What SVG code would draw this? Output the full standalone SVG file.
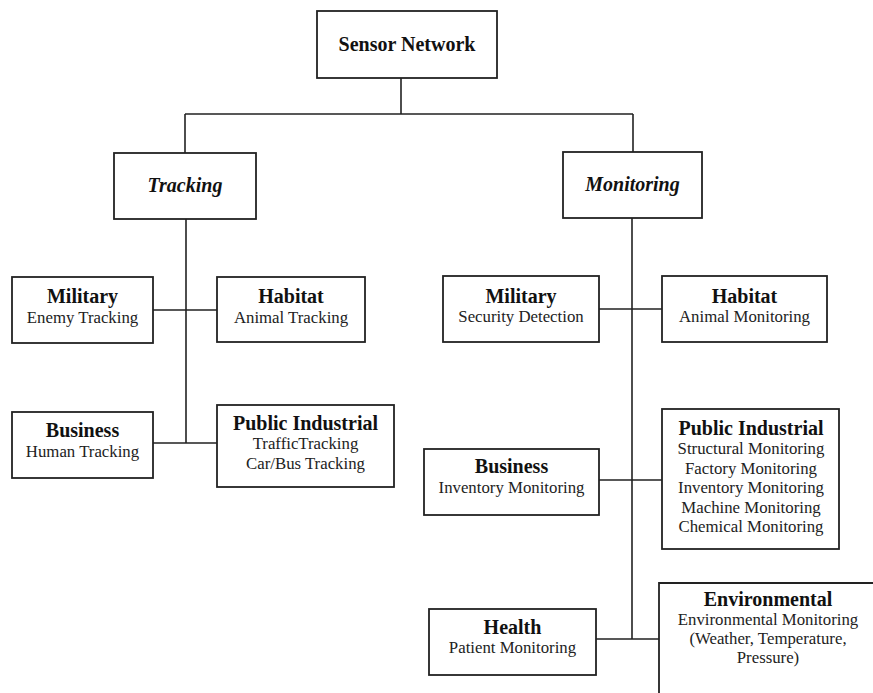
<svg xmlns="http://www.w3.org/2000/svg" width="873" height="693" viewBox="0 0 873 693">
<style>
.box{fill:#fff;stroke:#222;stroke-width:1.8}
.ln{fill:none;stroke:#222;stroke-width:1.6}
text{font-family:"Liberation Serif","Times New Roman",serif;fill:#111;text-anchor:middle}
.b{font-weight:bold;font-size:20px}
.bi{font-weight:bold;font-style:italic;font-size:20px}
.s{font-size:16.8px;fill:#222}
</style>
<rect width="873" height="693" fill="#fff"/>
<g id="connectors">
<path class="ln" d="M401 78V114M185 114H633M185 114V153M633 114V152"/>
<path class="ln" d="M186 219V443M153 310H217M153 443H217"/>
<path class="ln" d="M632 218V639M599 309H662M599 480H662M596 639H659"/>
</g>
<g id="sensor-network">
<rect class="box" x="317" y="11" width="180" height="67"/>
<text class="b" x="407" y="51">Sensor Network</text>
</g>
<g id="tracking">
<rect class="box" x="114" y="153" width="142" height="66"/>
<text class="bi" x="185" y="192">Tracking</text>
</g>
<g id="monitoring">
<rect class="box" x="563" y="152" width="139" height="66"/>
<text class="bi" x="632.5" y="191">Monitoring</text>
</g>
<g id="t-military">
<rect class="box" x="12" y="277" width="141" height="66"/>
<text class="b" x="82.5" y="303">Military</text>
<text class="s" x="82.5" y="323">Enemy Tracking</text>
</g>
<g id="t-habitat">
<rect class="box" x="217" y="277" width="148" height="65"/>
<text class="b" x="291" y="303">Habitat</text>
<text class="s" x="291" y="323">Animal Tracking</text>
</g>
<g id="t-business">
<rect class="box" x="12" y="412" width="141" height="66"/>
<text class="b" x="82.5" y="437">Business</text>
<text class="s" x="82.5" y="457">Human Tracking</text>
</g>
<g id="t-public-industrial">
<rect class="box" x="217" y="405" width="177" height="82"/>
<text class="b" x="305.5" y="430">Public Industrial</text>
<text class="s" x="305.5" y="449">TrafficTracking</text>
<text class="s" x="305.5" y="469">Car/Bus Tracking</text>
</g>
<g id="m-military">
<rect class="box" x="443" y="276" width="156" height="66"/>
<text class="b" x="521" y="303">Military</text>
<text class="s" x="521" y="322">Security Detection</text>
</g>
<g id="m-habitat">
<rect class="box" x="662" y="276" width="165" height="66"/>
<text class="b" x="744.5" y="303">Habitat</text>
<text class="s" x="744.5" y="322">Animal Monitoring</text>
</g>
<g id="m-business">
<rect class="box" x="424" y="449" width="175" height="66"/>
<text class="b" x="511.5" y="473">Business</text>
<text class="s" x="511.5" y="493">Inventory Monitoring</text>
</g>
<g id="m-public-industrial">
<rect class="box" x="662" y="409" width="177" height="140"/>
<text class="b" x="751" y="435">Public Industrial</text>
<text class="s" x="751" y="454">Structural Monitoring</text>
<text class="s" x="751" y="474">Factory Monitoring</text>
<text class="s" x="751" y="493">Inventory Monitoring</text>
<text class="s" x="751" y="513">Machine Monitoring</text>
<text class="s" x="751" y="532">Chemical Monitoring</text>
</g>
<g id="m-health">
<rect class="box" x="429" y="609" width="167" height="66"/>
<text class="b" x="512.5" y="634">Health</text>
<text class="s" x="512.5" y="653">Patient Monitoring</text>
</g>
<g id="m-environmental">
<path class="box" d="M659 695V583H875"/>
<text class="b" x="768" y="606">Environmental</text>
<text class="s" x="768" y="625">Environmental Monitoring</text>
<text class="s" x="768" y="644">(Weather, Temperature,</text>
<text class="s" x="768" y="663">Pressure)</text>
</g>
</svg>
